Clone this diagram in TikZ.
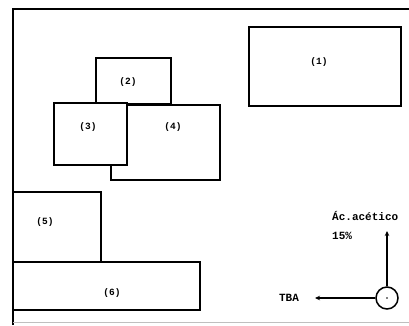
\documentclass[tikz,border=0pt]{standalone}
\usepackage{fontspec}
\newfontfamily\maquina{Liberation Mono}
\usetikzlibrary{arrows.meta}

\tikzset{
    caja/.style={draw, fill=white, line width=1.5pt},
    etiq/.style={font=\maquina\bfseries\fontsize{9.5}{11}\selectfont, inner sep=0pt},
    texto/.style={font=\maquina\bfseries\fontsize{11}{19}\selectfont, inner sep=0pt},
    flecha/.style={line width=1.4pt, -{Stealth[length=5pt, width=4.5pt]}}
}

\begin{document}
\begin{tikzpicture}[x=1pt, y=-1pt]

    \useasboundingbox (0,0) rectangle (409,325);

    % Marco
    \draw[line width=1.6pt] (13,325) -- (13,9) -- (409,9);
    \draw[black!25, line width=0.8pt] (13,322) -- (409,322);

    % Cajas
    \draw[caja] (249,27) rectangle (401,106);
    \draw[caja] (96,58) rectangle (171,104);
    \draw[caja] (111,105) rectangle (220,180);
    \draw[caja] (54,103) rectangle (127,165);
    \draw[caja] (13,192) rectangle (101,262);
    \draw[caja] (13,262) rectangle (200,310);

    \node[etiq] (e1) at (319,62) {(1)};
    \node[etiq] (e2) at (128,82) {(2)};
    \node[etiq] (e3) at (88,127) {(3)};
    \node[etiq] (e4) at (173,127) {(4)};
    \node[etiq] (e5) at (45,222) {(5)};
    \node[etiq] (e6) at (112,293) {(6)};

    % Valvula y salidas
    \node[circle, draw, line width=1.5pt, minimum size=22pt, inner sep=0pt] (valv) at (387,298) {};
    \fill (valv.center) circle (0.9);

    \node[texto, anchor=north west, align=left] (acet) at (332,211) {Ác.acético\\15\%};
    \node[texto] (tba) at (289,298) {TBA};

    \coordinate (arriba) at (387,231);
    \coordinate (izq) at (315,298);
    \draw[flecha] (valv.north) -- (arriba);
    \draw[flecha] (valv.west) -- (izq);

\end{tikzpicture}
\end{document}
